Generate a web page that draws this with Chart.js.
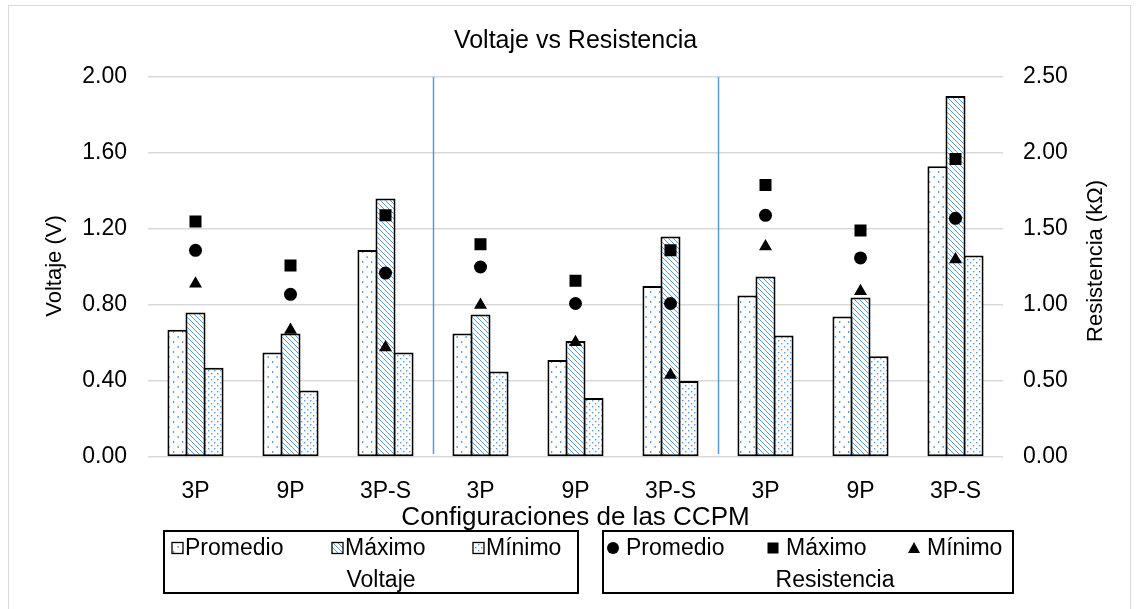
<!DOCTYPE html>
<html>
<head>
<meta charset="utf-8">
<title>Voltaje vs Resistencia</title>
<script src="https://cdn.jsdelivr.net/npm/chart.js@4.4.1/dist/chart.umd.min.js"></script>
<style>
  html, body { margin: 0; padding: 0; background: #fff; }
  #wrap { position: relative; width: 1139px; height: 609px; overflow: hidden; }
  #frame { position: absolute; left: 8px; top: 5px; width: 1123px; height: 620px; border: 1px solid #d9d9d9; box-sizing: border-box; }
  #chart { position: absolute; left: 0; top: 0; }
</style>
</head>
<body>
<div id="wrap">
  <div id="frame"></div>
  <canvas id="chart" width="1139" height="609"></canvas>
</div>
<script>
const categories = ["3P", "9P", "3P-S", "3P", "9P", "3P-S", "3P", "9P", "3P-S"];

// Voltaje (V), eje izquierdo
const voltProm = [0.67, 0.55, 1.09, 0.65, 0.51, 0.90, 0.85, 0.74, 1.53];
const voltMax = [0.76, 0.65, 1.36, 0.75, 0.61, 1.16, 0.95, 0.84, 1.90];
const voltMin = [0.47, 0.35, 0.55, 0.45, 0.31, 0.40, 0.64, 0.53, 1.06];

// Resistencia (kΩ), eje derecho
const resProm = [1.36, 1.07, 1.21, 1.25, 1.01, 1.01, 1.59, 1.31, 1.57];
const resMax = [1.55, 1.26, 1.59, 1.40, 1.16, 1.36, 1.79, 1.49, 1.96];
const resMin = [1.14, 0.835, 0.72, 1.00, 0.755, 0.54, 1.385, 1.09, 1.30];

const voltRange = { min: 0, max: 2, step: 0.4 };
const resRange = { min: 0, max: 2.5, step: 0.5 };

const FONT = "'Liberation Sans', Arial, sans-serif";
const BLUE = "#5b9bd5";
const GRID = "#d9d9d9";

function makePattern(w, h, paint) {
    const tile = document.createElement("canvas");
    tile.width = w;
    tile.height = h;
    const g = tile.getContext("2d");
    g.fillStyle = "#fff";
    g.fillRect(0, 0, w, h);
    g.fillStyle = BLUE;
    g.strokeStyle = BLUE;
    paint(g);
    return g.createPattern(tile, "repeat");
}

// sparse dashes for the average
const patProm = makePattern(9, 10, g => {
    g.fillRect(2, 1, 1.3, 2);
    g.fillRect(6.5, 6, 1.3, 2);
});
// diagonal hatch for the maximum
const patMax = makePattern(5, 5, g => {
    g.lineWidth = 1;
    g.beginPath();
    g.moveTo(-1, -1); g.lineTo(6, 6);
    g.moveTo(-1, 4); g.lineTo(1, 6);
    g.moveTo(4, -1); g.lineTo(6, 1);
    g.stroke();
});
// denser dots for the minimum
const patMin = makePattern(6, 6, g => {
    g.fillRect(1, 1, 1.4, 1.4);
    g.fillRect(4, 4, 1.4, 1.4);
});

function barSet(label, data, fill) {
    return {
        type: "bar",
        label,
        data,
        yAxisID: "y",
        backgroundColor: fill,
        borderColor: "#000",
        borderWidth: 2,
        borderSkipped: false,
        categoryPercentage: 0.57,
        barPercentage: 1.11,
        order: 1
    };
}

function pointSet(label, data, style, radius) {
    return {
        type: "line",
        label,
        data,
        yAxisID: "y1",
        showLine: false,
        pointStyle: style,
        pointRadius: radius,
        pointBackgroundColor: "#000",
        pointBorderColor: "#000",
        pointBorderWidth: 0,
        order: 0
    };
}

const extras = {
    id: "extras",
    beforeDatasetsDraw(chart) {
        const { ctx, chartArea, scales } = chart;
        const x = scales.x;
        ctx.save();
        ctx.strokeStyle = BLUE;
        ctx.lineWidth = 1.5;
        [2, 5].forEach(i => {
            const px = Math.round((x.getPixelForValue(i) + x.getPixelForValue(i + 1)) / 2) + 0.5;
            ctx.beginPath();
            ctx.moveTo(px, chartArea.top);
            ctx.lineTo(px, chartArea.bottom - 3);
            ctx.stroke();
        });
        ctx.restore();
    },
    afterDraw(chart) {
        const { ctx, chartArea } = chart;
        const midX = (chartArea.left + chartArea.right) / 2;
        const midY = (chartArea.top + chartArea.bottom) / 2;
        ctx.save();
        ctx.fillStyle = "#000";
        ctx.textAlign = "center";

        ctx.textBaseline = "alphabetic";
        ctx.font = `25px ${FONT}`;
        ctx.fillText("Voltaje vs Resistencia", midX, 48);
        ctx.font = `26px ${FONT}`;
        ctx.fillText("Configuraciones de las CCPM", midX, 525);

        ctx.textBaseline = "middle";
        ctx.font = `22px ${FONT}`;
        ctx.save();
        ctx.translate(55, midY - 1);
        ctx.rotate(-Math.PI / 2);
        ctx.fillText("Voltaje (V)", 0, 0);
        ctx.restore();

        ctx.save();
        ctx.translate(1096, midY - 6);
        ctx.rotate(-Math.PI / 2);
        ctx.fillText("Resistencia (kΩ)", 0, 0);
        ctx.restore();

        // two boxed legends under the axis title
        const legends = [
            {
                box: [164, 531, 414, 62],
                title: "Voltaje",
                titleX: 381,
                items: [
                    { x: 172, text: "Promedio", fill: patProm },
                    { x: 332, text: "Máximo", fill: patMax },
                    { x: 473, text: "Mínimo", fill: patMin }
                ]
            },
            {
                box: [603, 531, 410, 62],
                title: "Resistencia",
                titleX: 835,
                items: [
                    { x: 607, text: "Promedio", marker: "circle" },
                    { x: 767, text: "Máximo", marker: "rect" },
                    { x: 908, text: "Mínimo", marker: "triangle" }
                ]
            }
        ];
        const rowY = 548;
        legends.forEach(lg => {
            ctx.lineWidth = 2;
            ctx.strokeStyle = "#000";
            ctx.strokeRect(lg.box[0], lg.box[1], lg.box[2], lg.box[3]);
            ctx.font = `23px ${FONT}`;
            lg.items.forEach(it => {
                if (it.fill) {
                    ctx.fillStyle = it.fill;
                    ctx.fillRect(it.x, rowY - 5.5, 11, 11);
                    ctx.lineWidth = 1.3;
                    ctx.strokeRect(it.x, rowY - 5.5, 11, 11);
                } else {
                    ctx.fillStyle = "#000";
                    const cx = it.x + 6;
                    if (it.marker === "circle") {
                        ctx.beginPath();
                        ctx.arc(cx, rowY, 6, 0, Math.PI * 2);
                        ctx.fill();
                    } else if (it.marker === "rect") {
                        ctx.fillRect(cx - 5.5, rowY - 5.5, 11, 11);
                    } else {
                        ctx.beginPath();
                        ctx.moveTo(cx, rowY - 6);
                        ctx.lineTo(cx + 6, rowY + 5);
                        ctx.lineTo(cx - 6, rowY + 5);
                        ctx.closePath();
                        ctx.fill();
                    }
                }
                ctx.fillStyle = "#000";
                ctx.textAlign = "left";
                ctx.fillText(it.text, it.x + (it.fill ? 13 : 19), rowY + 1);
            });
            ctx.textAlign = "center";
            ctx.fillText(lg.title, lg.titleX, 581);
        });
        ctx.restore();
    }
};

new Chart(document.getElementById("chart"), {
    type: "bar",
    data: {
        labels: categories,
        datasets: [
            pointSet("Promedio", resProm, "circle", 6.5),
            pointSet("Máximo", resMax, "rect", 8.5),
            pointSet("Mínimo", resMin, "triangle", 7.5),
            barSet("Promedio", voltProm, patProm),
            barSet("Máximo", voltMax, patMax),
            barSet("Mínimo", voltMin, patMin)
        ]
    },
    options: {
        responsive: false,
        animation: false,
        events: [],
        layout: { padding: { top: 77, left: 0, right: 0, bottom: 0 } },
        plugins: {
            legend: { display: false },
            title: { display: false },
            tooltip: { enabled: false }
        },
        scales: {
            x: {
                offset: true,
                grid: { display: false },
                border: { display: false },
                ticks: { color: "#000", font: { family: FONT, size: 23 }, padding: 13, maxRotation: 0, autoSkip: false },
                afterFit(scale) { scale.height = 152; }
            },
            y: {
                position: "left",
                min: voltRange.min,
                max: voltRange.max,
                grid: { color: GRID, lineWidth: 1.5, drawTicks: false },
                border: { display: false },
                ticks: {
                    stepSize: voltRange.step,
                    color: "#000",
                    font: { family: FONT, size: 23 },
                    padding: 21,
                    callback: v => v.toFixed(2)
                },
                afterFit(scale) { scale.width = 148; }
            },
            y1: {
                position: "right",
                min: resRange.min,
                max: resRange.max,
                grid: { display: false, drawTicks: false },
                border: { display: false },
                ticks: {
                    stepSize: resRange.step,
                    color: "#000",
                    font: { family: FONT, size: 23 },
                    padding: 20,
                    callback: v => v.toFixed(2)
                },
                afterFit(scale) { scale.width = 136; }
            }
        }
    },
    plugins: [extras]
});
</script>
</body>
</html>
